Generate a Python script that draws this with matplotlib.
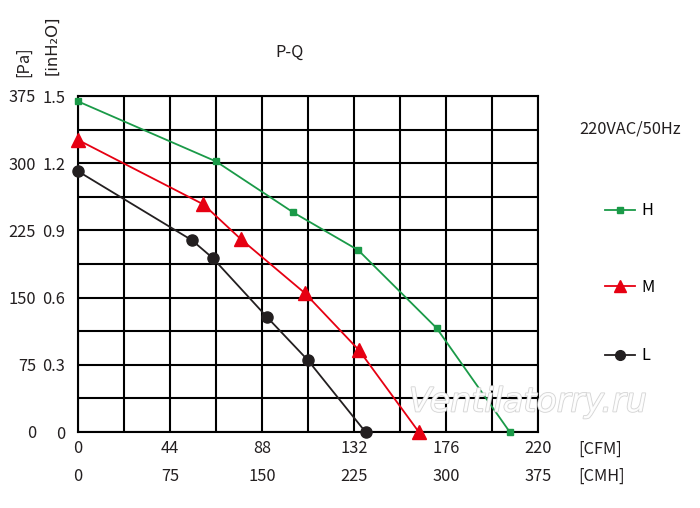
import matplotlib
matplotlib.use("Agg")
import matplotlib.pyplot as plt
import matplotlib.patheffects as pe
from matplotlib.lines import Line2D

plt.rcParams['font.family'] = ['Noto Sans CJK SC', 'DejaVu Sans']

# ---- data (CFM, Pa) ----
cfm_H = [0, 66, 103, 134, 171.5, 206.5]
pa_H = [369, 302, 245, 203, 116, 0]
cfm_M = [0, 60, 78, 108.5, 134.5, 163]
pa_M = [326, 254, 215, 155, 91, 0]
cfm_L = [0, 54.5, 64.5, 90.5, 110, 137.5]
pa_L = [291, 214, 194, 128, 80, 0]

cfm_ticks = [0, 44, 88, 132, 176, 220]
cmh_labels = ["0", "75", "150", "225", "300", "375"]
pa_ticks = [0, 75, 150, 225, 300, 375]
inh2o_ticks = [0, 0.3, 0.6, 0.9, 1.2, 1.5]
inh2o_labels = ["0", "0.3", "0.6", "0.9", "1.2", "1.5"]
series_names = ["H", "M", "L"]

GREEN = '#1a9a48'
RED = '#e60012'
BLACK = '#231f20'
FS = 11.8
PX = 72/100  # points per pixel

fig = plt.figure(figsize=(7, 5.08), dpi=100)
ax = fig.add_axes([78/700, 1-432/508, 460/700, 336/508])
ax.set_xlim(0, 220)
ax.set_ylim(0, 375)

ax.set_xticks(cfm_ticks)
ax.set_xticks([22, 66, 110, 154, 198], minor=True)
ax.set_xticklabels([f"{c}\n{m}" for c, m in zip(cfm_ticks, cmh_labels)],
                   fontsize=FS, linespacing=1.82, color='#231f20')
ax.set_yticks(pa_ticks)
ax.set_yticks([37.5, 112.5, 187.5, 262.5, 337.5], minor=True)
ax.set_yticklabels([str(p) for p in pa_ticks], fontsize=FS, color='#231f20')
ax.tick_params(which='both', length=0)
ax.tick_params(axis='y', pad=42*PX)
ax.tick_params(axis='x', pad=8*PX)
ax.grid(True, which='both', color='black', linewidth=1.5)
for s in ax.spines.values():
    s.set_linewidth(1.5)
ax.set_axisbelow(True)

sec = ax.secondary_yaxis('left', functions=(lambda p: p/250, lambda w: w*250))
sec.set_yticks(inh2o_ticks, inh2o_labels)
sec.tick_params(length=0, pad=13*PX, labelsize=FS, labelcolor='#231f20')
sec.spines['left'].set_visible(False)

ax.plot(cfm_H, pa_H, color=GREEN, lw=1.3, marker='s', ms=5, zorder=5, clip_on=False)
ax.plot(cfm_M, pa_M, color=RED, lw=1.3, marker='^', ms=10, zorder=5, clip_on=False)
ax.plot(cfm_L, pa_L, color=BLACK, lw=1.3, marker='o', ms=8, zorder=5, clip_on=False)

# watermark
fig.text(528/700, 1-402/508, "Ventilatorry.ru", fontsize=24, style='italic',
         color='white', ha='center', va='center', zorder=6,
         family=['DejaVu Sans'], alpha=0.9,
         path_effects=[pe.withStroke(linewidth=1.2, foreground='#d0d0d0')])

# texts
fig.text(290/700, 1-52/508, "P-Q", fontsize=FS, ha='center', va='center', color='#231f20')
fig.text(24/700, 1-62/508, "[Pa]", fontsize=FS, rotation=90, ha='center', va='center', color='#231f20')
fig.text(52/700, 1-45/508, "[inH₂O]", fontsize=FS, rotation=90, ha='center', va='center',
         color='#231f20', family=['DejaVu Sans'])
fig.text(578/700, 1-449/508, "[CFM]", fontsize=FS, ha='left', va='center', color='#231f20')
fig.text(578/700, 1-476/508, "[CMH]", fontsize=FS, ha='left', va='center', color='#231f20')
fig.text(630/700, 1-129/508, "220VAC/50Hz", fontsize=FS, ha='center', va='center', color='#231f20')

handles = [Line2D([], [], color=GREEN, lw=1.3, marker='s', ms=5),
           Line2D([], [], color=RED, lw=1.3, marker='^', ms=8),
           Line2D([], [], color=BLACK, lw=1.3, marker='o', ms=7)]
ys = [211, 287, 356]
for h, name, y in zip(handles, series_names, ys):
    fig.legend([h], [name], loc='center left', bbox_to_anchor=(605/700, 1-y/508),
               frameon=False, fontsize=FS, handlelength=1.85, handletextpad=0.35,
               borderpad=0, borderaxespad=0)

fig.savefig("out.png", dpi=100)
